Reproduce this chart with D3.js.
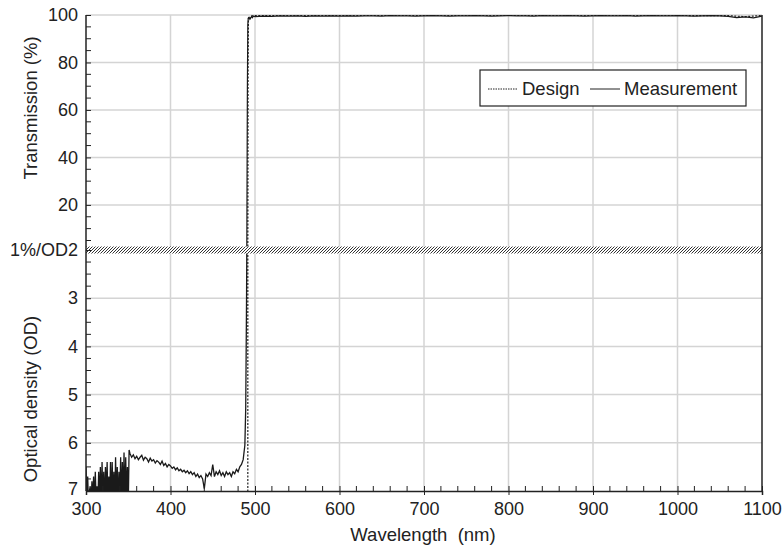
<!DOCTYPE html>
<html>
<head>
<meta charset="utf-8">
<script src="https://cdn.jsdelivr.net/npm/d3@7"></script>
<style>
  body { margin: 0; background: #fff; }
  text { font-family: "Liberation Sans", Arial, sans-serif; fill: #222; }
</style>
</head>
<body>
<svg id="grafico"></svg>
<script>
"use strict"

// x ticks
const xTicks = [300, 400, 500, 600, 700, 800, 900, 1000, 1100];
const tTicks = [20, 40, 60, 80, 100];
const odTicks = [3, 4, 5, 6, 7];

// measurement, blocking region (optical density)
const measOdWl = [
  300,301,302,303,304,305,306,307,308,309,310,311,312,313,314,315,316,317,318,319,
  320,321,322,323,324,325,326,327,328,329,330,331,332,333,334,335,336,337,338,339,
  340,341,342,343,344,345,346,347,348,349,350,351,
  352,354,356,358,360,362,364,366,368,370,372,374,376,378,380,382,384,386,388,390,
  392,394,396,398,400,402,404,406,408,410,412,414,416,418,420,422,424,426,428,430,
  432,434,436,438,440,442,444,446,448,450,452,454,456,458,460,462,464,466,468,470,
  472,474,476,478,480,482,484,486,488,489,489.5,490,490.3
];
const measOdVal = [
  6.5,7.2,6.7,7.3,7.0,6.9,7.3,6.8,7.2,6.7,7.3,6.6,7.2,6.9,7.3,6.6,7.2,6.5,7.3,6.4,
  7.2,6.6,7.3,6.5,7.1,6.4,7.3,6.7,7.2,6.4,7.3,6.4,7.2,6.6,7.3,6.3,7.2,6.5,7.3,6.6,
  7.2,6.3,7.3,6.4,7.2,6.2,7.3,6.3,7.2,6.5,7.3,6.15,
  6.22,6.3,6.25,6.33,6.28,6.35,6.3,6.26,6.36,6.3,6.33,6.4,6.32,6.38,6.35,6.42,6.37,6.4,6.45,6.38,
  6.47,6.43,6.5,6.45,6.48,6.53,6.5,6.56,6.52,6.58,6.55,6.6,6.57,6.62,6.58,6.64,6.6,6.66,6.62,6.7,
  6.65,6.72,6.68,6.75,6.95,6.65,6.7,6.62,6.68,6.45,6.7,6.6,6.66,6.58,6.68,6.62,6.7,6.6,6.66,6.62,
  6.7,6.6,6.64,6.55,6.6,6.5,6.45,6.35,6.05,5.3,4.2,3.0,2.0
];

// measurement, pass region (transmission %)
const measTWl = [
  490.3,490.6,491,491.5,492,493,494,495,496,497,498,
  500,510,520,530,540,550,560,570,580,590,600,610,620,630,640,650,660,670,680,690,
  700,710,720,730,740,750,760,770,780,790,800,810,820,830,840,850,860,870,880,890,
  900,910,920,930,940,950,960,970,980,990,1000,1010,1020,1030,1040,1050,1060,1070,1080,1090,1100
];
const measTVal = [
  1,30,70,96,98.5,99,98.2,98.8,99.4,98.9,99.5,
  99.3,99.5,99.4,99.6,99.5,99.6,99.4,99.6,99.5,99.6,99.5,99.6,99.5,99.6,99.6,99.5,99.7,99.6,99.6,99.5,
  99.6,99.7,99.6,99.5,99.6,99.6,99.7,99.6,99.5,99.6,99.7,99.6,99.6,99.5,99.7,99.6,99.6,99.7,99.6,99.5,
  99.6,99.7,99.6,99.6,99.7,99.5,99.6,99.7,99.6,99.6,99.7,99.6,99.5,99.6,99.7,99.6,99.4,98.9,99.2,98.8,99.5
];

// design
const designOdWl = [300, 491.5, 491.5];
const designOdVal = [7.5, 7.5, 2.0];
const designTWl = [491.5, 491.8, 492.2, 493, 494, 495, 496, 498, 500, 600, 700, 800, 900, 1000, 1060, 1080, 1100];
const designTVal = [1, 80, 98.8, 99.3, 98.6, 99.2, 99.6, 99.7, 99.8, 99.8, 99.8, 99.8, 99.8, 99.8, 99.7, 99.3, 99.8];

function iniciar(){
  const largura = 782;
  const altura = 547;
  const margem = { esquerda: 86, direita: 20, superior: 15, inferior: 56 };
  const yQuebra = 250;

  const svg = d3.select('#grafico').attr('width', largura).attr('height', altura);

  const x = d3.scaleLinear().domain([300, 1100]).range([margem.esquerda, largura - margem.direita]);
  const yT = d3.scaleLinear().domain([1, 100]).range([yQuebra, margem.superior]);
  const yOD = d3.scaleLinear().domain([2, 7]).range([yQuebra, altura - margem.inferior]);

  const x0 = x.range()[0], x1 = x.range()[1];
  const yTop = margem.superior, yBot = altura - margem.inferior;

  const defs = svg.append('defs');
  defs.append('clipPath').attr('id', 'clipT').append('rect')
    .attr('x', x0).attr('y', yTop - 2).attr('width', x1 - x0).attr('height', yQuebra - yTop + 2);
  defs.append('clipPath').attr('id', 'clipOD').append('rect')
    .attr('x', x0).attr('y', yQuebra).attr('width', x1 - x0).attr('height', yBot - yQuebra);
  const pat = defs.append('pattern').attr('id', 'hatch')
    .attr('patternUnits', 'userSpaceOnUse').attr('width', 3).attr('height', 3);
  pat.append('rect').attr('width', 3).attr('height', 3).attr('fill', '#fff');
  pat.append('path').attr('d', 'M-1,1 L1,-1 M0,3 L3,0 M2,4 L4,2')
    .attr('stroke', '#333').attr('stroke-width', 1);

  // grid
  const grade = svg.append('g').attr('stroke', '#d4d4d4').attr('stroke-width', 1.5);
  grade.selectAll('.gx').data(xTicks.slice(1, -1)).enter().append('line')
    .attr('x1', d => x(d)).attr('x2', d => x(d)).attr('y1', yTop).attr('y2', yBot);
  grade.selectAll('.gt').data(tTicks).enter().append('line')
    .attr('x1', x0).attr('x2', x1).attr('y1', d => yT(d)).attr('y2', d => yT(d));
  grade.selectAll('.go').data(odTicks.slice(0, -1)).enter().append('line')
    .attr('x1', x0).attr('x2', x1).attr('y1', d => yOD(d)).attr('y2', d => yOD(d));

  // lines
  const linhaT = d3.line().x(d => x(d[0])).y(d => yT(d[1]));
  const linhaOD = d3.line().x(d => x(d[0])).y(d => yOD(d[1]));

  svg.append('path').datum(d3.zip(designOdWl, designOdVal)).attr('clip-path', 'url(#clipOD)')
    .attr('d', linhaOD).attr('fill', 'none').attr('stroke', '#222').attr('stroke-width', 1.2)
    .attr('stroke-dasharray', '2,1.5');
  svg.append('path').datum(d3.zip(designTWl, designTVal)).attr('clip-path', 'url(#clipT)')
    .attr('d', linhaT).attr('fill', 'none').attr('stroke', '#222').attr('stroke-width', 1.2)
    .attr('stroke-dasharray', '2,1.5');

  svg.append('path').datum(d3.zip(measOdWl, measOdVal)).attr('clip-path', 'url(#clipOD)')
    .attr('d', linhaOD).attr('fill', 'none').attr('stroke', '#1a1a1a').attr('stroke-width', 1.3);
  svg.append('path').datum(d3.zip(measTWl, measTVal)).attr('clip-path', 'url(#clipT)')
    .attr('d', linhaT).attr('fill', 'none').attr('stroke', '#1a1a1a').attr('stroke-width', 1.2);

  // break band
  svg.append('rect').attr('x', x0).attr('y', yQuebra - 3.5).attr('width', x1 - x0).attr('height', 7)
    .attr('fill', 'url(#hatch)');

  // frame
  svg.append('line').attr('x1', x1).attr('x2', x1).attr('y1', yTop).attr('y2', yBot)
    .attr('stroke', '#222').attr('stroke-width', 1.5);

  // axes
  const fonte = 18;
  const eixoX = svg.append('g').attr('transform', `translate(0,${yBot})`)
    .call(d3.axisBottom(x).tickValues(xTicks).tickSize(4).tickPadding(7).tickFormat(d3.format('d')));
  eixoX.selectAll('.tick line').attr('y1', -5);
  eixoX.append('g').selectAll('line').data(d3.range(320, 1100, 20).filter(v => v % 100 !== 0))
    .enter().append('line').attr('x1', d => x(d)).attr('x2', d => x(d)).attr('y1', 0).attr('y2', -5)
    .attr('stroke', '#222');

  const eixoT = svg.append('g').attr('transform', `translate(${x0},0)`)
    .call(d3.axisLeft(yT).tickValues(tTicks).tickSize(5).tickPadding(3));
  eixoT.selectAll('.tick line').attr('x2', 5);
  eixoT.select('.domain').attr('d', `M0,${yTop}V${yQuebra}`);
  eixoT.append('g').selectAll('line').data(d3.range(5, 100, 5).filter(v => v % 20 !== 0))
    .enter().append('line').attr('x1', 0).attr('x2', 5).attr('y1', d => yT(d)).attr('y2', d => yT(d))
    .attr('stroke', '#222');

  const eixoOD = svg.append('g').attr('transform', `translate(${x0},0)`)
    .call(d3.axisLeft(yOD).tickValues([2].concat(odTicks)).tickSize(5).tickPadding(3)
      .tickFormat(d => d === 2 ? '1%/OD2' : d));
  eixoOD.selectAll('.tick line').attr('x2', 5);
  eixoOD.select('.domain').attr('d', `M0,${yQuebra}V${yBot}`);
  eixoOD.append('g').selectAll('line').data(d3.range(2.25, 7, 0.25).filter(v => v % 1 !== 0))
    .enter().append('line').attr('x1', 0).attr('x2', 5).attr('y1', d => yOD(d)).attr('y2', d => yOD(d))
    .attr('stroke', '#222');
  eixoOD.selectAll('.tick').filter(d => d === 7).select('text').attr('dy', '0.2em');

  svg.selectAll('.domain').attr('stroke', '#222').attr('stroke-width', 1.5);
  svg.selectAll('.tick line').attr('stroke', '#222');
  svg.selectAll('.tick text').attr('font-size', fonte).attr('fill', '#222')
    .style('font-family', '"Liberation Sans", Arial, sans-serif');

  // titles
  const fonteTitulo = 18.5;
  svg.append('text').attr('x', 423).attr('y', 541).attr('text-anchor', 'middle')
    .attr('font-size', fonteTitulo).attr('xml:space', 'preserve').text('Wavelength  (nm)');
  svg.append('text').attr('transform', 'translate(37,108) rotate(-90)')
    .attr('text-anchor', 'middle').attr('font-size', fonteTitulo).text('Transmission (%)');
  svg.append('text').attr('transform', 'translate(37,399) rotate(-90)')
    .attr('text-anchor', 'middle').attr('font-size', fonteTitulo).text('Optical density (OD)');

  // legend
  const leg = svg.append('g').attr('transform', 'translate(480,70)');
  leg.append('rect').attr('width', 266).attr('height', 36).attr('fill', '#fff')
    .attr('stroke', '#222').attr('stroke-width', 1.2);
  leg.append('line').attr('x1', 8).attr('x2', 38).attr('y1', 19).attr('y2', 19)
    .attr('stroke', '#222').attr('stroke-width', 1).attr('stroke-dasharray', '1.5,1');
  leg.append('text').attr('x', 42).attr('y', 25).attr('font-size', 18.5).text('Design');
  leg.append('line').attr('x1', 110).attr('x2', 140).attr('y1', 19).attr('y2', 19)
    .attr('stroke', '#222').attr('stroke-width', 1);
  leg.append('text').attr('x', 144).attr('y', 25).attr('font-size', 18.5).text('Measurement');
}

window.addEventListener('load', iniciar, false);
</script>
</body>
</html>
